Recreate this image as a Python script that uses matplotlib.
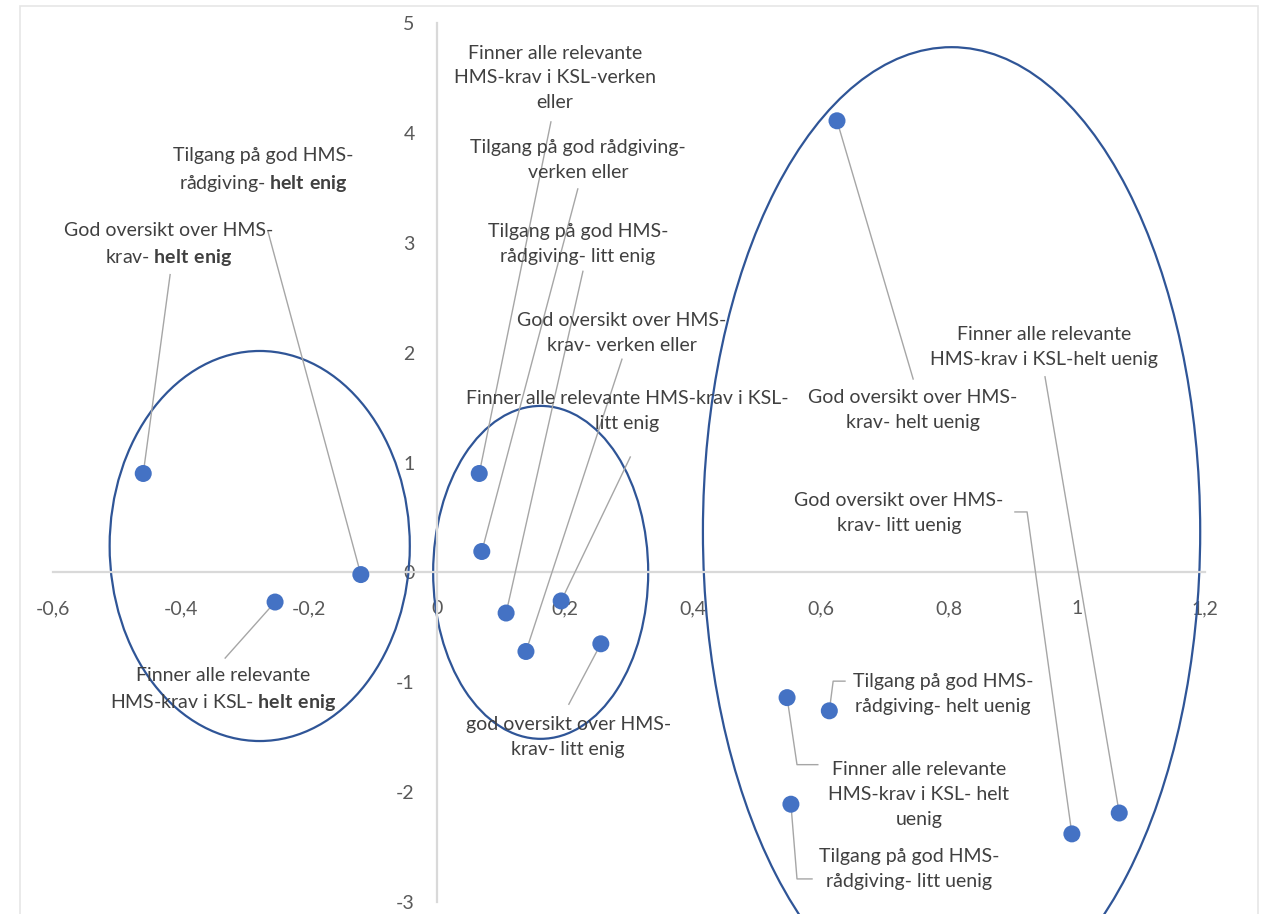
import numpy as np
import matplotlib
matplotlib.use("Agg")
import matplotlib.pyplot as plt
from matplotlib.patches import Ellipse, Rectangle
from matplotlib.ticker import FuncFormatter, MultipleLocator

# Point coordinates
x_vals = [-0.459, -0.119, -0.253, 0.066, 0.070, 0.108, 0.194, 0.139, 0.256,
          0.625, 1.066, 0.992, 0.547, 0.613, 0.553]
y_vals = [0.90, -0.02, -0.27, 0.90, 0.19, -0.37, -0.26, -0.72, -0.65,
          4.11, -2.19, -2.38, -1.14, -1.26, -2.11]
point_labels = [
    "God oversikt over HMS-\nkrav- $\\mathbf{helt\\ enig}$",
    "Tilgang på god HMS-\nrådgiving- $\\mathbf{helt\\ enig}$",
    "Finner alle relevante\nHMS-krav i KSL- $\\mathbf{helt\\ enig}$",
    "Finner alle relevante\nHMS-krav i KSL-verken\neller",
    "Tilgang på god rådgiving-\nverken eller",
    "Tilgang på god HMS-\nrådgiving- litt enig",
    "Finner alle relevante HMS-krav i KSL-\nlitt enig",
    "God oversikt over HMS-\nkrav- verken eller",
    "god oversikt over HMS-\nkrav- litt enig",
    "God oversikt over HMS-\nkrav- helt uenig",
    "Finner alle relevante\nHMS-krav i KSL-helt uenig",
    "God oversikt over HMS-\nkrav- litt uenig",
    "Finner alle relevante\nHMS-krav i KSL- helt\nuenig",
    "Tilgang på god HMS-\nrådgiving- helt uenig",
    "Tilgang på god HMS-\nrådgiving- litt uenig",
]

# Layout: label centres and leader-line start (and elbow) points, data units
label_pos = [(-0.420, 2.98), (-0.272, 3.66), (-0.334, -1.07), (0.184, 4.50),
             (0.220, 3.75), (0.220, 2.99), (0.297, 1.47), (0.289, 2.18),
             (0.205, -1.50), (0.744, 1.48), (0.948, 2.05), (0.722, 0.54),
             (0.753, -2.02), (0.791, -1.11), (0.738, -2.70)]
leader_path = [
    [(-0.417, 2.71)],
    [(-0.264, 3.10)],
    [(-0.331, -0.78)],
    [(0.178, 4.10)],
    [(0.220, 3.49)],
    [(0.228, 2.74)],
    [(0.302, 1.05)],
    [(0.289, 1.94)],
    [(0.206, -1.20)],
    [(0.744, 1.76)],
    [(0.950, 1.78)],
    [(0.903, 0.55), (0.922, 0.55)],
    [(0.595, -1.75), (0.5625, -1.75)],
    [(0.6375, -0.99), (0.619, -0.99)],
    [(0.586, -2.79), (0.5625, -2.79)],
]

# Cluster ellipses: centre x, centre y, width, height
ell_cx = [-0.277, 0.162, 0.804]
ell_cy = [0.24, 0.0, 0.37]
ell_w = [0.469, 0.336, 0.777]
ell_h = [3.55, 3.03, 8.82]

POINT_COLOR = "#4472C4"
RING_COLOR = "#2F5597"
LEADER_COLOR = "#A6A6A6"
TEXT_COLOR = "#404040"
TICK_COLOR = "#595959"
AXIS_COLOR = "#D9D9D9"


def _fmt(v, _pos):
    return f"{v:g}".replace(".", ",")


def main():
    plt.rcParams["font.family"] = ["Lato", "DejaVu Sans"]
    plt.rcParams["mathtext.fontset"] = "custom"
    plt.rcParams["mathtext.rm"] = "Lato"
    plt.rcParams["mathtext.bf"] = "Lato:bold"
    plt.rcParams["axes.unicode_minus"] = False

    fig = plt.figure(figsize=(12.61, 9.14), dpi=100)
    ax = fig.add_axes([53 / 1261, 12 / 914, 1152 / 1261, 879 / 914])

    # outer chart border
    fig.patches.append(Rectangle((20 / 1261, -0.01), 1238 / 1261, 1.0 - 6 / 914 + 0.01,
                                 transform=fig.transFigure, fill=False,
                                 edgecolor="#E6E6E6", linewidth=1.2))

    ax.set_xlim(-0.6, 1.2)
    ax.set_ylim(-3, 5)
    ax.xaxis.set_major_locator(MultipleLocator(0.2))
    ax.yaxis.set_major_locator(MultipleLocator(1))
    ax.xaxis.set_major_formatter(FuncFormatter(_fmt))
    ax.yaxis.set_major_formatter(FuncFormatter(_fmt))

    for side in ("top", "right"):
        ax.spines[side].set_visible(False)
    for side in ("left", "bottom"):
        ax.spines[side].set_position(("data", 0))
        ax.spines[side].set_color(AXIS_COLOR)
        ax.spines[side].set_linewidth(1.6)
    ax.tick_params(axis="x", length=0, pad=20, labelsize=14, labelcolor=TICK_COLOR)
    ax.tick_params(axis="y", length=0, pad=16, labelsize=14, labelcolor=TICK_COLOR)
    ax.set_facecolor("none")

    for cx, cy, w, h in zip(ell_cx, ell_cy, ell_w, ell_h):
        ax.add_patch(Ellipse((cx, cy), w, h, fill=False, edgecolor=RING_COLOR,
                             linewidth=1.6, clip_on=False, zorder=2))

    for i, (lab, (lx, ly)) in enumerate(zip(point_labels, label_pos)):
        path = leader_path[i] + [(x_vals[i], y_vals[i])]
        px, py = zip(*path)
        ax.plot(px, py, color=LEADER_COLOR, linewidth=1.0, zorder=3, clip_on=False)
        ax.text(lx, ly, lab, ha="center", va="center", multialignment="center",
                fontsize=14, color=TEXT_COLOR, linespacing=1.55, zorder=4)

    ax.scatter(x_vals, y_vals, s=150, color=POINT_COLOR, edgecolors="none",
               zorder=5, clip_on=False)

    fig.savefig("out.png", dpi=100, facecolor="white")


if __name__ == "__main__":
    main()
